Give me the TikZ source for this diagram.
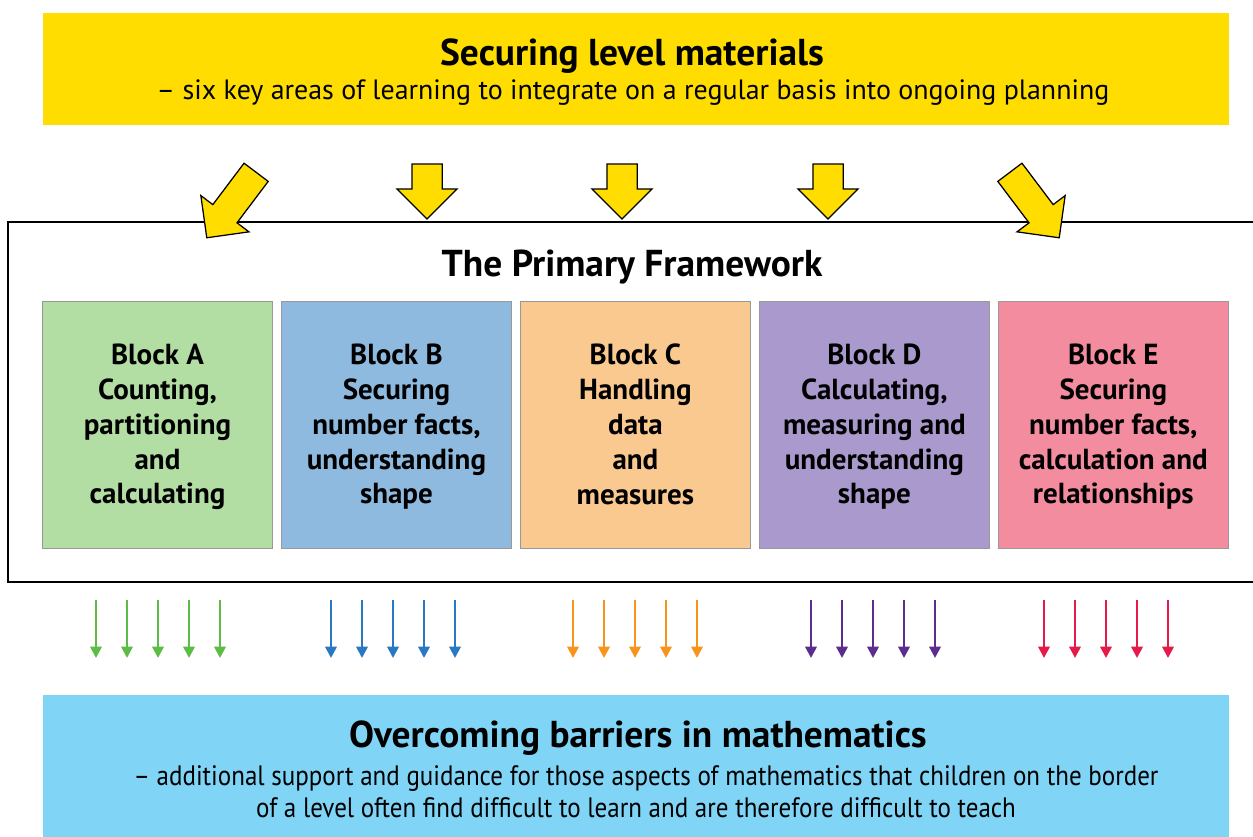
\documentclass[tikz,border=0pt]{standalone}
\usepackage{fontspec}
\setmainfont{PT Sans}
\newfontfamily\narrowfont[FakeStretch=0.89]{PT Sans}
\usetikzlibrary{positioning,shapes.arrows,arrows.meta}
\definecolor{secyellow}{HTML}{FFDD00}
\definecolor{barrierblue}{HTML}{80D5F7}
\definecolor{fillA}{HTML}{B2DDA3}
\definecolor{fillB}{HTML}{8FBAE0}
\definecolor{fillC}{HTML}{F9C98F}
\definecolor{fillD}{HTML}{A999CC}
\definecolor{fillE}{HTML}{F48CA0}
\definecolor{arrA}{HTML}{5CBC46}
\definecolor{arrB}{HTML}{2A78C2}
\definecolor{arrC}{HTML}{F7941D}
\definecolor{arrD}{HTML}{5C2D91}
\definecolor{arrE}{HTML}{E5194A}
\tikzset{
  bandbox/.style = {rectangle, inner sep=0pt, minimum width=23.72cm},
  headtext/.style = {inner sep=0pt, anchor=base, font=\fontsize{21.3}{25}\selectfont\bfseries},
  subtext/.style = {inner sep=0pt, anchor=base, font=\fontsize{15.9}{19}\selectfont},
  block/.style = {rectangle, draw=black!40, line width=0.2mm, inner sep=0pt, minimum width=4.59cm, minimum height=4.96cm, align=center, font=\fontsize{16.5}{19.9}\selectfont\bfseries, text depth=1.4pt},
  bigarrow/.style = {single arrow, draw=black, fill=secyellow, line width=0.25mm, inner xsep=0pt, inner ysep=0.29cm, minimum height=1.1cm, single arrow head extend=0.3cm},
  smallarrow/.style = {-{Triangle[length=2.3mm,width=2.3mm]}, line width=0.5mm},
}

\begin{document}
\begin{tikzpicture}[x=0.02cm, y=-0.02cm]
  \useasboundingbox (0,0) rectangle (1253,837);

  % top band
  \node [bandbox, fill=secyellow, minimum height=2.24cm] (secure) at (636,69) {};
  \node [headtext] (secureTitle) at (632,66) {Securing level materials};
  \node [subtext] (secureSub) at (633,100) {– six key areas of learning to integrate on a regular basis into ongoing planning};

  % framework frame
  \draw [line width=0.3mm] (1253,222) -- (8,222) -- (8,582) -- (1253,582);
  \node [headtext] (frameTitle) at (632,277) {The Primary Framework};

  % yellow arrows
  \node [bigarrow, minimum height=1.64cm, rotate=-127] (arrowA) at (236,199) {};
  \node [bigarrow, rotate=-90] (arrowB) at (427,184) {};
  \node [bigarrow, rotate=-90] (arrowC) at (622,184) {};
  \node [bigarrow, rotate=-90] (arrowD) at (828,184) {};
  \node [bigarrow, minimum height=1.64cm, rotate=-53] (arrowE) at (1030,199) {};

  % blocks
  \node [block, fill=fillA] (blockA) at (157.5,425) {Block A\\Counting,\\partitioning\\and\\calculating};
  \node [block, fill=fillB, right=0.17cm of blockA] (blockB) {Block B\\Securing\\number facts,\\understanding\\shape};
  \node [block, fill=fillC, right=0.17cm of blockB] (blockC) {Block C\\Handling\\data\\and\\measures};
  \node [block, fill=fillD, right=0.17cm of blockC] (blockD) {Block D\\Calculating,\\measuring and\\understanding\\shape};
  \node [block, fill=fillE, right=0.17cm of blockD] (blockE) {Block E\\Securing\\number facts,\\calculation and\\relationships};

  % coloured arrows under each block
  \foreach \cx/\col in {158/arrA, 393/arrB, 635/arrC, 873/arrD, 1106/arrE}
    \foreach \dx in {-62,-31,0,31,62}
      \draw [smallarrow, \col] (\cx+\dx,600) -- (\cx+\dx,658);

  % bottom band
  \node [bandbox, fill=barrierblue, minimum height=2.84cm] (barriers) at (636,766) {};
  \node [headtext] (barrierTitle) at (638,747) {Overcoming barriers in mathematics};
  \node [subtext, font=\narrowfont\fontsize{16}{18.8}\selectfont] (barrierSub1) at (646,785) {– additional support and guidance for those aspects of mathematics that children on the border};
  \node [subtext, font=\narrowfont\fontsize{16}{18.8}\selectfont] (barrierSub2) at (636,817) {of a level often find difficult to learn and are therefore difficult to teach};
\end{tikzpicture}
\end{document}
